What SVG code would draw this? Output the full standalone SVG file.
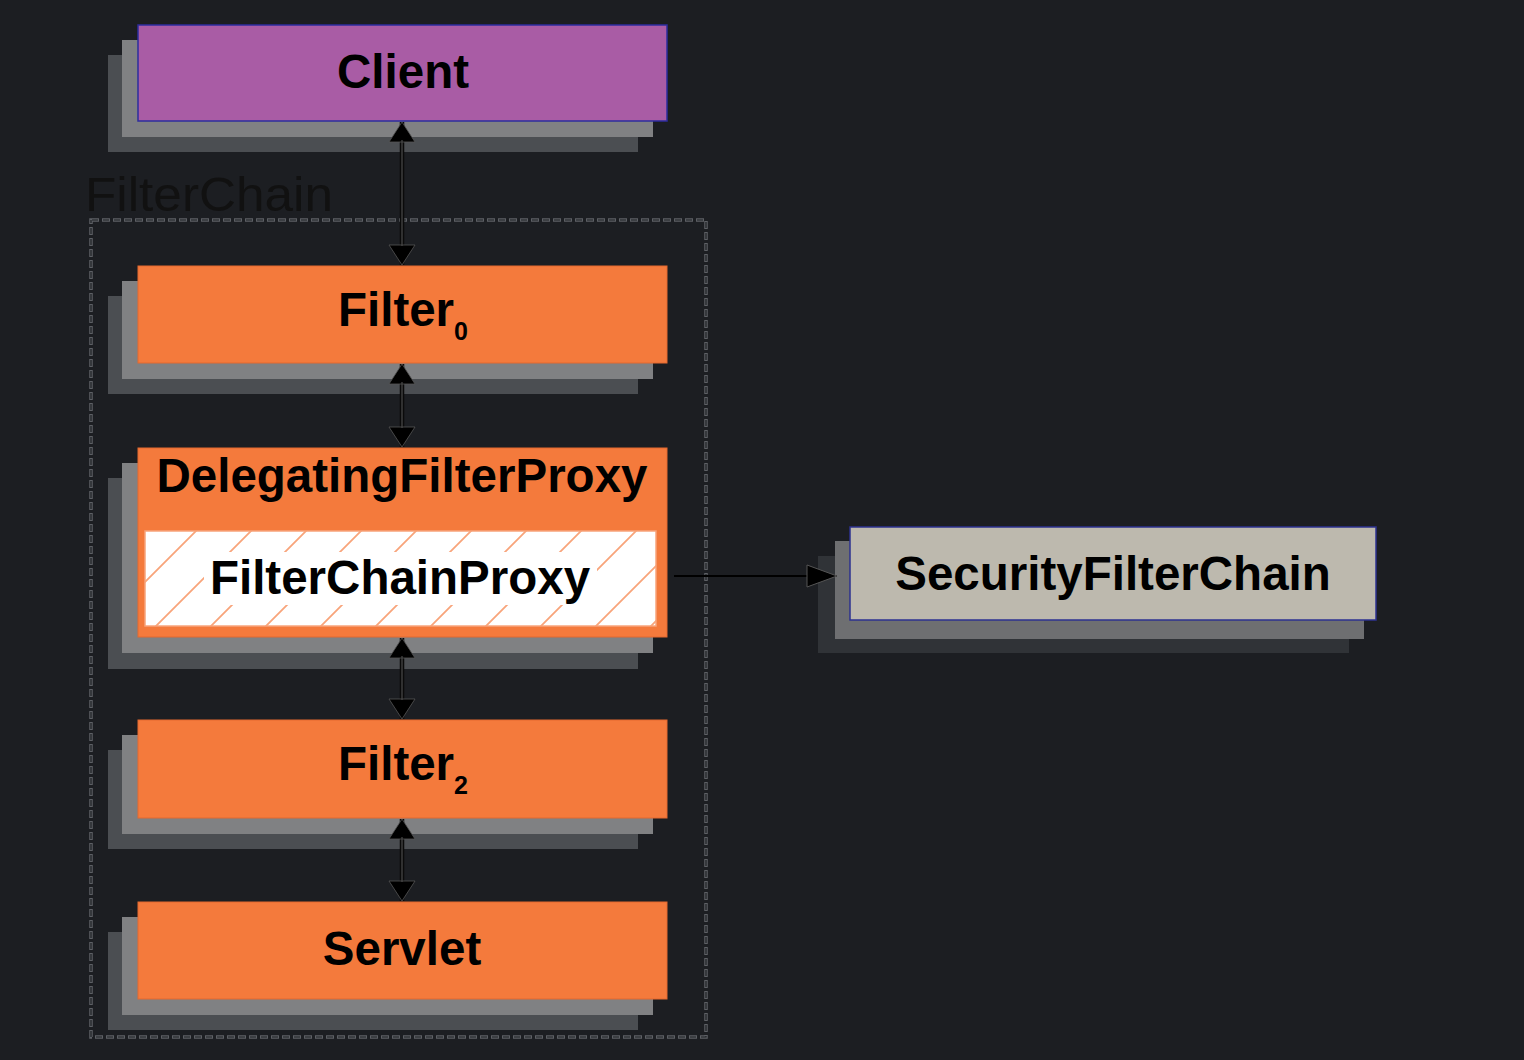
<svg xmlns="http://www.w3.org/2000/svg" width="1524" height="1060" viewBox="0 0 1524 1060">
<style>
.lbl{font-family:"Liberation Sans",Arial,sans-serif;font-weight:bold;font-size:47.5px;fill:#000;text-anchor:middle}
.sub{font-size:25px}
.sh1{fill:#808183}
.sh2{fill:#4b4e52}
.sh1b{fill:#6e6f71}
.sh2b{fill:#303337}
.orange{fill:#f47a3c;stroke:#e4692f;stroke-width:1}
.wire{fill:none;stroke:#0a0a0a;stroke-width:4.5}
.wirec{fill:none;stroke:#4a4a4a;stroke-width:1.2}
</style>
<defs>
<marker id="head" markerUnits="userSpaceOnUse" markerWidth="24" markerHeight="28" viewBox="-1 -1 23 28" refX="20" refY="13" orient="auto-start-reverse">
<path d="M0,0 L20,13 L0,26 Z" fill="#000" stroke="#555" stroke-width="0.8"/>
</marker>
<marker id="head2" markerUnits="userSpaceOnUse" markerWidth="34" markerHeight="26" viewBox="-2 -2 34 26" refX="30" refY="11" orient="auto">
<path d="M0,0 L30,11 L0,22 Z" fill="#000" stroke="#555" stroke-width="1"/>
</marker>
<pattern id="hatch" patternUnits="userSpaceOnUse" x="12" y="0" width="55" height="55">
<path d="M-5,5 L5,-5 M0,55 L55,0 M50,60 L60,50" stroke="#f8a47b" stroke-width="1.8" fill="none"/>
</pattern>
</defs>
<rect x="0" y="0" width="1524" height="1060" fill="#1c1e22"/>

<g id="filterchain-group">
<rect x="91" y="220" width="615" height="817" fill="none" stroke="#5d6065" stroke-width="3.5" stroke-dasharray="8 3"/>
<rect x="91" y="220" width="615" height="817" fill="none" stroke="#1c1e22" stroke-width="1.2" stroke-dasharray="6 5" stroke-dashoffset="-1"/>
<text x="85" y="211" font-family="Liberation Sans,Arial,sans-serif" font-size="48" fill="#111" textLength="248" lengthAdjust="spacingAndGlyphs">FilterChain</text>
</g>

<g id="client">
<rect class="sh2" x="108" y="55" width="530" height="97"/>
<rect class="sh1" x="122" y="40" width="531" height="97"/>
<rect x="138" y="25" width="529" height="96" fill="#a95ca5" stroke="#2d2d9e" stroke-width="1.5"/>
<text class="lbl" x="403" y="88">Client</text>
</g>

<g id="filter0">
<rect class="sh2" x="108" y="296" width="530" height="98"/>
<rect class="sh1" x="122" y="281" width="531" height="98"/>
<rect class="orange" x="138" y="266" width="529" height="97"/>
<text class="lbl" x="403" y="326">Filter<tspan class="sub" dy="14">0</tspan></text>
</g>

<g id="delegatingfilterproxy">
<rect class="sh2" x="108" y="478" width="530" height="191"/>
<rect class="sh1" x="122" y="463" width="531" height="190"/>
<rect class="orange" x="138" y="448" width="529" height="189"/>
<text class="lbl" x="402" y="492">DelegatingFilterProxy</text>
<g id="filterchainproxy">
<rect x="145" y="531" width="511" height="95" fill="#fff"/>
<rect x="145" y="531" width="511" height="95" fill="url(#hatch)" stroke="#f8a47b" stroke-width="1.5"/>
<rect x="204" y="552" width="393" height="53" fill="#fff"/>
<text class="lbl" x="400" y="594">FilterChainProxy</text>
</g>
</g>

<g id="filter2">
<rect class="sh2" x="108" y="750" width="530" height="99"/>
<rect class="sh1" x="122" y="735" width="531" height="99"/>
<rect class="orange" x="138" y="720" width="529" height="98"/>
<text class="lbl" x="403" y="780">Filter<tspan class="sub" dy="14">2</tspan></text>
</g>

<g id="servlet">
<rect class="sh2" x="108" y="932" width="530" height="98"/>
<rect class="sh1" x="122" y="917" width="531" height="98"/>
<rect class="orange" x="138" y="902" width="529" height="97"/>
<text class="lbl" x="402" y="965">Servlet</text>
</g>

<g id="securityfilterchain">
<rect class="sh2b" x="818" y="556" width="531" height="97"/>
<rect class="sh1b" x="835" y="541" width="529" height="98"/>
<rect x="850" y="527" width="526" height="93" fill="#bdb9ae" stroke="#2d3290" stroke-width="1.5"/>
<text class="lbl" x="1113" y="590">SecurityFilterChain</text>
</g>

<g id="connectors">
<line class="wire" x1="402" y1="122" x2="402" y2="265" marker-start="url(#head)" marker-end="url(#head)"/>
<line class="wirec" x1="402" y1="140" x2="402" y2="246"/>
<line class="wire" x1="402" y1="364" x2="402" y2="447" marker-start="url(#head)" marker-end="url(#head)"/>
<line class="wirec" x1="402" y1="382" x2="402" y2="428"/>
<line class="wire" x1="402" y1="638" x2="402" y2="719" marker-start="url(#head)" marker-end="url(#head)"/>
<line class="wirec" x1="402" y1="656" x2="402" y2="700"/>
<line class="wire" x1="402" y1="819" x2="402" y2="901" marker-start="url(#head)" marker-end="url(#head)"/>
<line class="wirec" x1="402" y1="837" x2="402" y2="882"/>
<line x1="674" y1="576" x2="837" y2="576" stroke="#000" stroke-width="2" marker-end="url(#head2)"/>
</g>
</svg>
